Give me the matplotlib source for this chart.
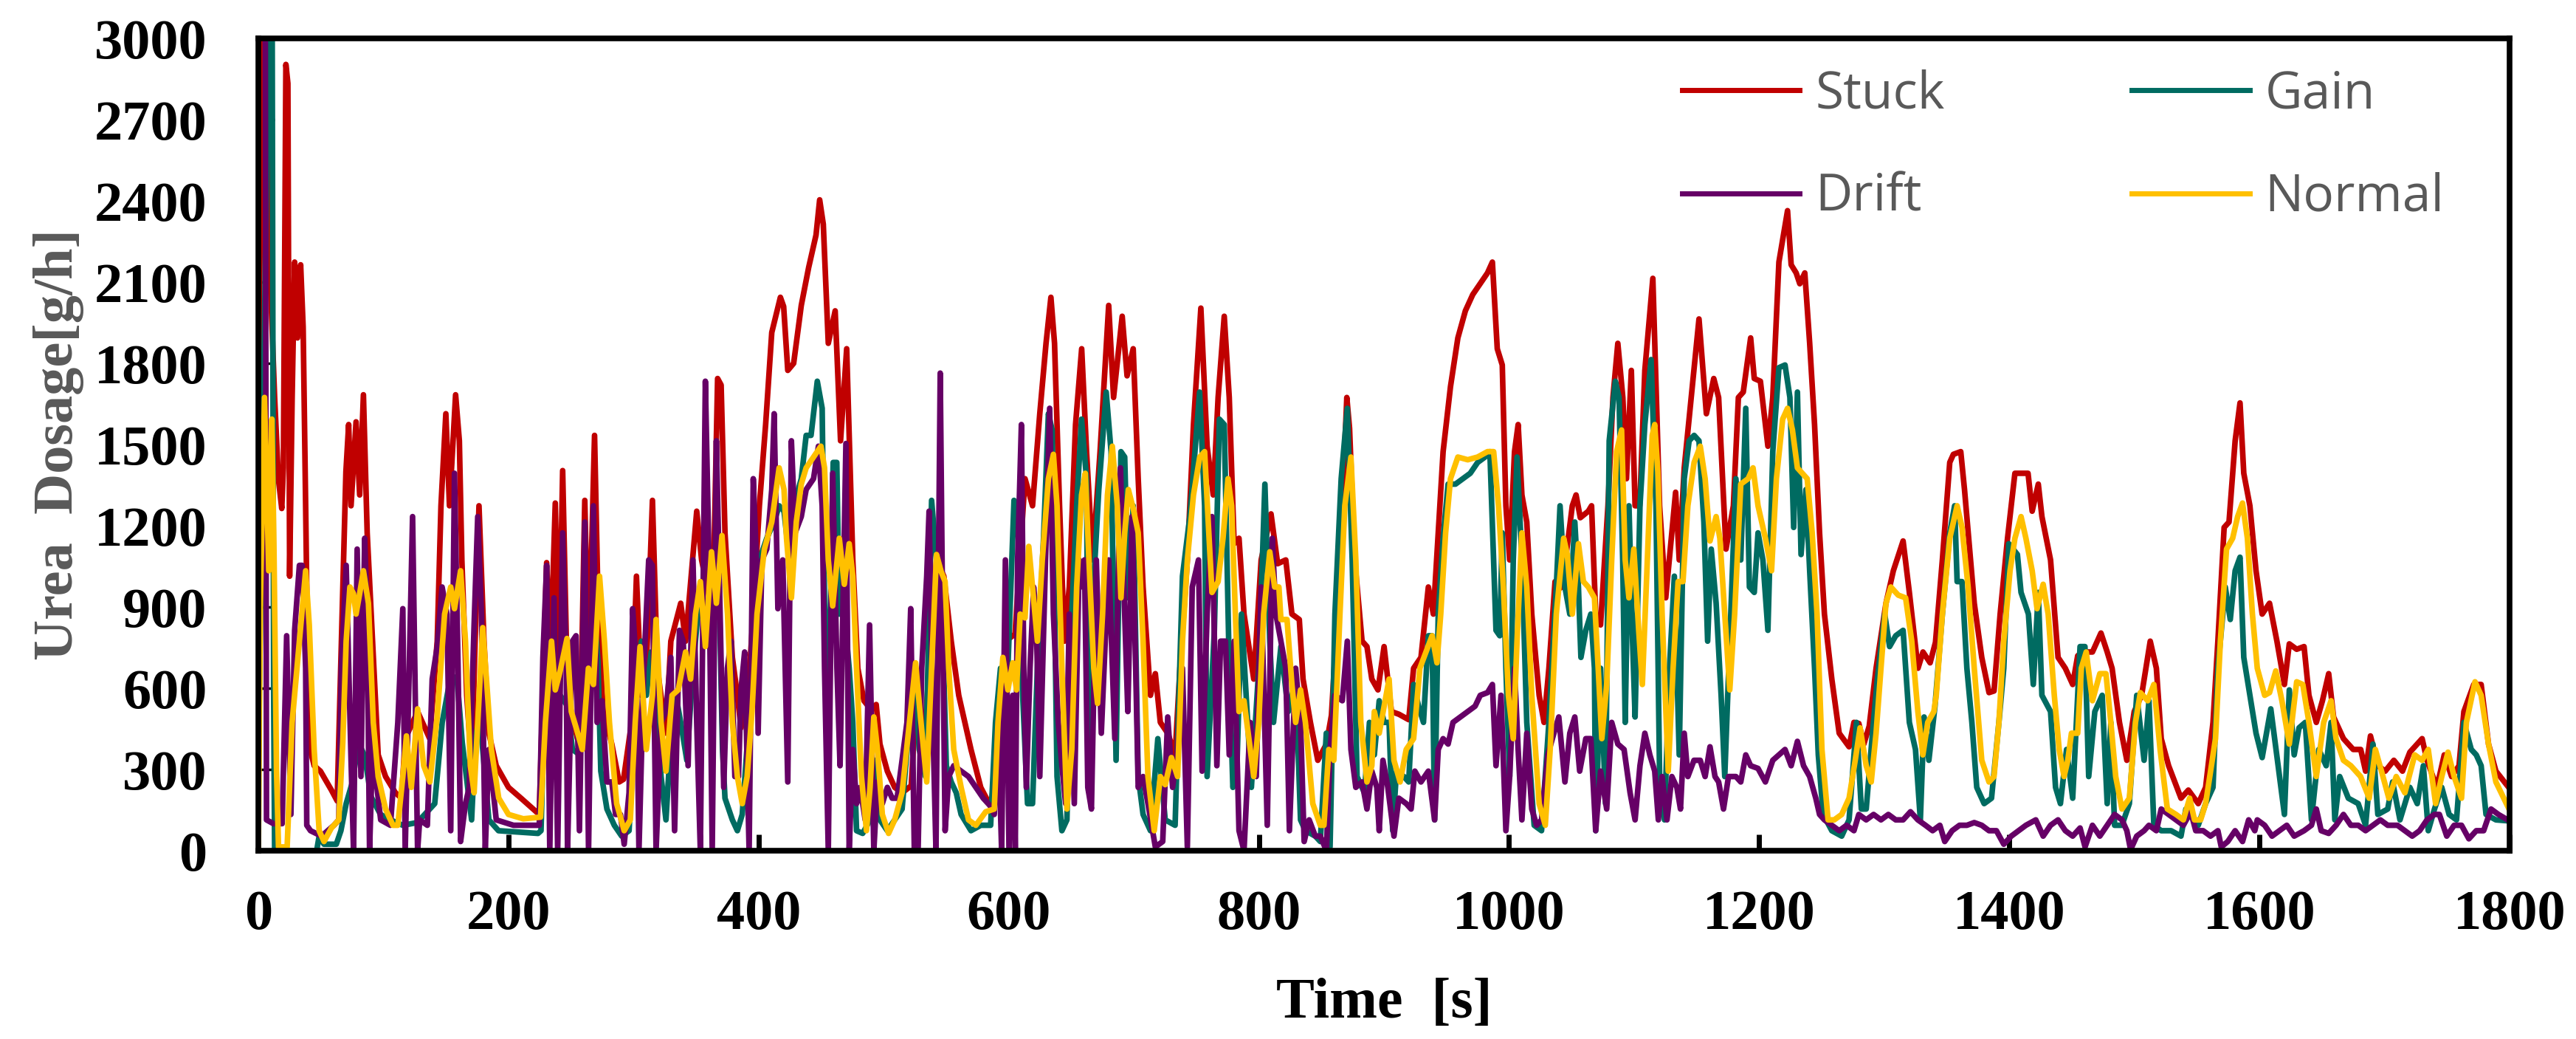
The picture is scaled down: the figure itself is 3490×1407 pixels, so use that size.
import numpy as np
import matplotlib.pyplot as plt

# values: (time [s], urea dosage [g/h])
stuck_pts = [(0,1500),(3,3150),(6,3150),(8,2300),(13,1674),(16,1374),(18.7,1264),(20,1414),(22,2904),(23.6,2834),(25,1014),(27,1674),(29,2174),(31.3,1894),(33.8,2164),(35.8,1934),(37.8,1274),(40.3,394),(44.6,314),(49.6,294),(58.4,224),(63,184),(67,874),(70,1400),(72.2,1574),(74.1,1274),(78.1,1584),(81,1314),(84,1684),(87,1174),(95.8,354),(101.7,274),(109.6,214),(114.5,194),(117.4,414),(127.3,514),(137,414),(143,774),(146,1274),(149.9,1614),(152.8,1274),(157.7,1684),(160.7,1514),(162.7,1074),(166.6,574),(170.5,314),(176.4,1274),(180.4,774),(184.3,434),(190.2,314),(200,234),(210,194),(224.6,134),(230.5,1064),(233.5,700),(237.4,1284),(240.3,674),(243.3,1404),(247.2,574),(255.1,414),(258,574),(261,1294),(264,674),(268.8,1534),(271.8,874),(275.7,514),(282.6,394),(288.5,254),(292,264),(298.4,474),(302.3,1014),(306.2,574),(310,650),(315.1,1294),(319,674),(325.9,434),(329.8,774),(337.7,914),(341.6,774),(350.5,1254),(354.4,1074),(363.3,874),(367.2,1744),(370,1720),(373.1,1174),(379,714),(383,574),(385.9,454),(391,550),(395.7,874),(400.6,1274),(405.6,1574),(410.5,1914),(417.4,2044),(420,2010),(423.3,1774),(428,1800),(434.1,2014),(440,2154),(445.9,2274),(448.8,2404),(451.7,2314),(455.7,1874),(461.2,1994),(465.5,1514),(470.4,1854),(475.3,1074),(479.3,674),(484.2,554),(490,520),(494,540),(497,394),(502.9,294),(508.8,234),(514.7,214),(522,240),(526.5,600),(532,380),(542.2,1074),(548.1,1014),(554,774),(560,574),(569.8,374),(577.6,234),(585.5,164),(590,300),(597.3,774),(605,800),(613,1374),(619,1274),(624.8,1614),(629.8,1874),(633.7,2044),(636.6,1874),(640.6,1274),(644.5,774),(648.4,974),(653.4,1574),(658.3,1854),(662.2,1474),(667.1,1074),(673,1474),(679.9,2014),(683.8,1674),(690.7,1974),(694.6,1754),(699.5,1854),(703.5,1374),(707.4,974),(713.3,574),(717.2,654),(721.2,474),(727.1,434),(733,354),(736.9,674),(742.8,1074),(747.7,1574),(753.6,2004),(758.6,1494),(763.5,1314),(767.4,1674),(772.3,1974),(776.3,1674),(780.2,1134),(784.1,1154),(788.1,874),(795.9,634),(801.8,1074),(809.7,1244),(815,1060),(821.5,1074),(826.4,874),(832.3,854),(835.3,634),(841.2,474),(847.1,334),(854,394),(858,500),(862.8,874),(866.7,1274),(870.3,1674),(872.5,1560),(876.6,1074),(882.5,774),(886.4,754),(890.3,634),(895.2,594),(900.1,754),(906,514),(912,504),(919.8,484),(923.7,674),(929.6,714),(935.5,974),(939.5,874),(943.4,1174),(947.3,1474),(953.2,1714),(959.1,1894),(965.1,1994),(971,2054),(976.9,2094),(982.8,2134),(986.7,2174),(990.6,1854),(994.6,1794),(997.5,1274),(1000.5,1074),(1004.4,1474),(1007.3,1574),(1010.3,1314),(1014.2,1214),(1018.2,874),(1024.1,574),(1028,474),(1031.9,674),(1036.8,994),(1041,970),(1045.7,1094),(1050.6,1274),(1053.6,1314),(1057,1230),(1063.4,1254),(1066,1274),(1069.3,874),(1073.2,834),(1079.1,1274),(1083.1,1674),(1087,1874),(1091,1674),(1093.9,1374),(1097.8,1774),(1100.8,1274),(1104.5,1274),(1108.6,1774),(1115,2114),(1120.4,1274),(1125.3,934),(1133.2,1324),(1136.1,1074),(1140.1,1414),(1151.9,1964),(1157.8,1614),(1163.7,1744),(1167.6,1674),(1173.5,1114),(1179.4,1274),(1183.4,1674),(1187.3,1694),(1193.2,1894),(1196.1,1744),(1201,1734),(1207,1494),(1210.9,1674),(1215.8,2174),(1222.7,2364),(1225.6,2164),(1229.6,2134),(1232.5,2094),(1236.5,2134),(1240.4,1874),(1244.3,1574),(1248.3,1174),(1252.2,874),(1258.1,634),(1264,434),(1271.9,384),(1275.8,474),(1279.7,470),(1283.7,394),(1288,460),(1293.5,674),(1301.4,914),(1307.3,1034),(1315.1,1144),(1320.1,954),(1327,674),(1331,734),(1336.7,694),(1341,770),(1346.5,1074),(1352.4,1434),(1355.3,1464),(1361.2,1474),(1364.2,1334),(1372,914),(1378,714),(1383.8,584),(1387.8,590),(1392.7,874),(1398.6,1154),(1404.5,1394),(1411.4,1394),(1415,1394),(1418.3,1254),(1423.2,1354),(1426.1,1234),(1433,1074),(1439,714),(1444.8,674),(1450.7,614),(1454.7,720),(1458.6,734),(1466.5,734),(1473.3,804),(1478.3,734),(1482.2,674),(1488.1,474),(1494,334),(1499.9,514),(1505.8,574),(1512.7,774),(1517.6,674),(1521.5,414),(1527.4,314),(1537.3,194),(1543.2,224),(1551.1,174),(1557,234),(1562.9,474),(1566.8,774),(1571.8,1194),(1575.7,1214),(1580.6,1514),(1584.5,1654),(1587.5,1394),(1592.4,1274),(1597.3,1034),(1602.2,874),(1608.1,914),(1614,774),(1620,614),(1623.9,764),(1629.8,744),(1635.7,754),(1639.6,574),(1645.5,474),(1650.4,554),(1655.4,654),(1659.3,494),(1667.2,414),(1675,374),(1681,374),(1684.9,294),(1688.8,424),(1694.7,314),(1700.6,294),(1707.5,334),(1714.4,294),(1720.3,364),(1730.1,414),(1734,334),(1741.9,234),(1747.8,354),(1753.7,274),(1759.6,314),(1763.5,514),(1771.4,614),(1777.3,614),(1783.2,394),(1789.1,294),(1800,230)]

gain_pts = [(0,300),(8.5,3150),(11,3150),(12.2,600),(13,0),(46.6,0),(48.6,54),(52.5,24),(62.3,24),(66,74),(70.2,174),(75,250),(80,400),(85,350),(90,200),(97.7,134),(105.6,114),(115.5,94),(127,104),(141,174),(147,474),(152,600),(158.7,644),(163,400),(170.5,114),(173.5,414),(177,500),(184.3,114),(192,74),(223.6,64),(226,74),(229.5,674),(235.4,574),(241.3,574),(247.2,534),(251.1,374),(257.1,354),(263,634),(268.8,874),(271.5,700),(273.8,294),(278.7,154),(284.6,94),(290.5,54),(296.4,74),(302.3,574),(306.2,774),(310.2,574),(314.1,734),(318,574),(322,274),(325.9,114),(329.8,414),(333.8,574),(337.7,474),(342.6,334),(347.5,674),(353.4,974),(357.4,774),(362.3,874),(367.2,1234),(371.1,374),(373.1,194),(379,114),(383,74),(386.9,134),(391,400),(396.7,674),(400.6,1074),(406.5,1154),(412.4,1214),(416.4,1274),(420.3,1254),(424,1100),(428.2,1274),(434.1,1374),(438,1534),(441.9,1534),(446.9,1734),(450.8,1634),(452.7,914),(455.7,474),(459.6,1434),(462.5,1434),(464.5,874),(468,900),(472.4,674),(475.3,474),(478.3,74),(483.2,64),(489.1,114),(493,334),(497,114),(502.9,74),(508.8,114),(514.7,154),(520.6,474),(525.5,614),(528.4,374),(533.4,274),(538.3,1294),(542.2,1074),(546.2,954),(550.1,314),(554,254),(558,214),(561.9,134),(569.8,74),(577.6,94),(585.5,94),(589.4,474),(593.4,674),(599.3,674),(604.2,1294),(607,1274),(611.1,574),(615,174),(619,174),(622.9,674),(627.8,1154),(631.7,1614),(634.7,1554),(638.6,274),(642.5,74),(646.5,114),(650.4,874),(654.3,1274),(658.2,1594),(662.2,1374),(663.8,220),(666.5,874),(672,1334),(677.9,1694),(681.8,1474),(685.8,334),(689.7,1474),(692.7,1454),(695.6,934),(699.5,1274),(703.5,274),(707.4,134),(713.3,74),(719.2,414),(725.1,114),(733,94),(738.9,1014),(744.8,1234),(752.6,1694),(756.6,1274),(758.6,274),(764.4,814),(768.4,1594),(772.3,1574),(776.3,674),(779.2,234),(782.2,274),(786.1,874),(794,234),(799.9,674),(804.8,1354),(808.7,774),(811.7,474),(817.6,754),(823.5,514),(829.4,634),(833.3,114),(837.2,74),(845.1,54),(849.1,34),(853.9,434),(856.9,14),(860.8,874),(865.8,1374),(870.7,1634),(874.6,1074),(878.5,274),(884.4,214),(888.4,474),(892.3,354),(896.2,554),(900.1,474),(904.1,474),(907,74),(910,294),(915.9,274),(919.8,254),(923.7,614),(927.7,534),(931.6,474),(935.5,794),(938.5,794),(940.5,114),(943.4,874),(947.3,1154),(951.3,1354),(957.2,1354),(963.1,1374),(969,1394),(974.9,1434),(980.8,1454),(984.7,1474),(987.7,1074),(989.6,814),(992.6,794),(994.6,1174),(997.5,674),(1000.5,274),(1003.4,1074),(1006.4,1454),(1010.3,1074),(1014.2,474),(1020.1,94),(1026,74),(1031.9,474),(1037.8,974),(1040.8,1274),(1044.7,974),(1048.6,874),(1052.6,1214),(1055.5,974),(1057.5,714),(1061.4,814),(1065.4,874),(1068.3,674),(1069.3,74),(1073.2,674),(1077.2,174),(1080.1,1514),(1085,1734),(1088,1674),(1090.9,1074),(1092.9,474),(1095.9,1274),(1098.8,774),(1100.8,494),(1104.7,1274),(1108.6,1574),(1113.6,1814),(1117.5,1274),(1120.4,274),(1124.3,114),(1128.3,674),(1132.2,1014),(1136.1,354),(1140.1,1374),(1144,1514),(1148,1534),(1151.9,1514),(1155.8,1214),(1158.8,774),(1161.7,1114),(1165.6,914),(1169.6,574),(1172.5,274),(1176.5,774),(1181.4,1374),(1185.3,1074),(1189.3,1634),(1192.2,974),(1196.1,954),(1199.1,1174),(1203,1074),(1207,814),(1210.9,1474),(1215.8,1784),(1220.7,1794),(1224.6,1674),(1227.6,1194),(1230.6,1694),(1233.5,1094),(1237.4,1334),(1240.4,1034),(1244.3,674),(1247.3,354),(1251.2,134),(1258.1,74),(1266,54),(1271.9,114),(1277.8,474),(1281.7,154),(1285.6,154),(1290.6,434),(1294.5,634),(1300.4,874),(1304.3,754),(1309.2,794),(1315.1,814),(1320.1,474),(1325,374),(1328.9,114),(1331.9,494),(1335.7,334),(1340.6,534),(1346.5,874),(1352.4,1174),(1356.3,1274),(1358.3,994),(1362.2,994),(1366.1,674),(1370.1,474),(1374,234),(1379.9,174),(1385.8,194),(1391.7,474),(1395.6,674),(1399.6,1134),(1406.5,1094),(1409.4,954),(1415.3,874),(1419.2,614),(1423.2,954),(1426.1,574),(1433,514),(1437,234),(1440.9,174),(1445.8,374),(1450.7,194),(1456.6,754),(1460.5,754),(1463.5,274),(1468.4,514),(1474.3,574),(1478.3,174),(1481.2,474),(1484.2,94),(1490.1,94),(1496,174),(1501.9,574),(1507.8,334),(1511.7,554),(1515.6,94),(1521.5,74),(1529.4,74),(1537.3,54),(1541.2,154),(1545.1,134),(1551.1,94),(1557,174),(1562.9,234),(1566.8,674),(1572.7,974),(1576.7,854),(1580.6,1034),(1584.5,1084),(1587.5,714),(1592.4,574),(1597.3,434),(1602.2,344),(1609.1,524),(1615,314),(1620,134),(1623.9,594),(1627.8,354),(1631.7,454),(1636.7,474),(1641.6,114),(1647.5,374),(1653.4,314),(1657.3,474),(1660.3,114),(1664.2,274),(1671.1,194),(1679,174),(1684.9,94),(1690.8,394),(1694.7,134),(1702.6,154),(1706.5,254),(1712.4,114),(1720.3,234),(1726.2,174),(1731.1,314),(1735,74),(1740,154),(1745.8,234),(1751.7,134),(1757.6,114),(1763.5,474),(1769.4,374),(1773.4,354),(1777.3,314),(1781.2,134),(1789.1,114),(1800,110)]

drift_pts = [(0,3200),(5.5,3200),(6.5,114),(12,100),(19,100),(22.6,794),(26,134),(29,814),(32.8,1054),(35,1054),(37.8,674),(38.7,94),(41.7,74),(50.5,54),(60.4,94),(64.3,114),(66.3,674),(70.2,1054),(74.1,334),(76.1,0),(79,1114),(82,274),(85,1154),(87,874),(88.9,0),(91.9,474),(94.8,234),(97.8,114),(105.6,94),(111.5,474),(115.5,894),(117.4,0),(123.3,1234),(127.3,0),(129,114),(135.1,94),(139,634),(143,754),(146.9,974),(150.8,874),(153.8,74),(156.8,1394),(159.7,674),(161.7,34),(165.6,174),(168.6,234),(172.5,834),(175.4,1234),(178.4,874),(181.4,0),(184.3,374),(190.2,114),(204,94),(224.6,94),(227.5,714),(230.5,1054),(233,0),(236.4,934),(239.3,0),(243.3,1174),(246.2,674),(247.2,0),(251.1,774),(254,794),(256.7,74),(261,1214),(264,0),(267.9,1274),(270.8,474),(274.7,554),(278.7,254),(282.6,254),(285.6,134),(289.5,134),(292.5,24),(296.4,214),(299.3,894),(302.3,674),(304.3,0),(308.2,674),(312.1,1074),(315,1054),(318,0),(322,474),(325.9,514),(329.8,714),(332.8,74),(336.7,814),(339.7,774),(343.6,314),(347.5,1074),(350.5,474),(353.4,0),(357.4,1734),(360.3,1074),(362.9,0),(366.2,1514),(369.2,874),(372.1,234),(375,674),(378,774),(381,274),(383.9,274),(385.9,594),(388.8,734),(392.4,0),(395.7,1374),(398,1100),(399.6,434),(402.6,1074),(406.5,1114),(410.5,1334),(412.4,1614),(415.4,894),(419.3,1074),(423.3,254),(426.2,1514),(429.2,1174),(434.1,1234),(438,1334),(443.9,1374),(447.8,1494),(450.8,1274),(452.7,674),(455.7,0),(459.2,1394),(462.6,674),(465.1,314),(469.8,1504),(472.4,0),(475.3,374),(478.3,174),(481.2,234),(485.2,114),(488.7,834),(492.1,0),(495,254),(498.9,174),(502.9,234),(506.8,194),(510.7,194),(514.7,334),(518.6,474),(521.6,894),(524.5,0),(527.5,0),(530.4,674),(534.4,1014),(536.3,1254),(539.3,474),(541.8,0),(545.2,1764),(547.1,874),(549.1,74),(552,274),(556,314),(561.9,294),(567.8,274),(573.7,234),(579.6,194),(585.5,164),(588.4,134),(591.4,474),(594.3,0),(597.3,1074),(600.2,0),(603.2,574),(605.2,0),(607.1,1074),(610.1,1574),(612,674),(614,234),(617,674),(619.9,974),(621.9,874),(624.8,274),(628.8,974),(632.7,1634),(635.7,874),(639.6,474),(642.5,314),(645.5,174),(648.4,874),(652.4,174),(656.3,1074),(659.2,974),(660.5,1074),(663.2,234),(666.1,154),(670,1074),(674,434),(679.9,1074),(684.8,414),(689.3,1414),(692.7,874),(695.2,514),(698.6,1234),(701.5,674),(703.5,234),(707.4,274),(711.3,174),(717.2,14),(723.1,34),(727.1,494),(731,234),(735,374),(738.9,674),(742.8,14),(746.7,974),(751.7,1074),(754.6,294),(758.6,874),(762.5,1234),(766.4,314),(769.4,774),(773.3,774),(776.3,354),(780.2,774),(784.1,74),(788.1,0),(793,474),(797.9,274),(801.8,974),(806.7,94),(810.7,1154),(813.6,874),(817.6,774),(821.5,674),(824.4,74),(829.4,674),(833.3,474),(836.2,34),(840.2,114),(845.1,54),(849.1,54),(854,0),(856.9,374),(860.8,574),(866.7,554),(870.7,774),(873.6,374),(877.5,234),(882.5,254),(886.4,154),(890.3,294),(894.3,234),(896.2,74),(899.2,334),(903.1,234),(908,54),(911.9,194),(917.8,174),(921.7,154),(924.7,294),(929.6,254),(935.5,294),(940.5,114),(943.4,374),(947.3,414),(951.3,394),(955.2,474),(961.1,494),(967,514),(972.9,534),(977,574),(982.8,584),(986.7,614),(989.6,314),(993.6,574),(997.5,74),(1000.5,274),(1004.4,674),(1007.3,374),(1010.3,114),(1014.2,434),(1018.2,154),(1022.1,94),(1026,114),(1031,354),(1035.9,434),(1039.8,494),(1044.7,254),(1048.6,434),(1052.6,494),(1056.5,294),(1061.4,414),(1065.4,414),(1069.3,74),(1073.2,294),(1078.1,154),(1082.1,474),(1087,394),(1092,374),(1096.8,214),(1100.8,114),(1104.7,314),(1108.6,434),(1112.6,354),(1116.5,294),(1119.4,114),(1122.4,274),(1126.3,114),(1130.2,274),(1134.2,234),(1137.1,154),(1140.1,434),(1143,274),(1147.9,334),(1152.9,334),(1156.8,274),(1160.7,384),(1164.7,274),(1167.6,254),(1171.5,154),(1175.5,274),(1181.4,274),(1185.3,254),(1189.3,354),(1193.2,314),(1199.1,304),(1205,254),(1210.9,334),(1215.8,354),(1220.7,374),(1225.6,314),(1230.6,404),(1235.5,314),(1240.4,274),(1245.3,194),(1248.3,134),(1252.2,114),(1258.1,94),(1264,74),(1269.9,94),(1275.8,74),(1279.7,134),(1285.6,114),(1291.5,134),(1297.4,114),(1303.3,134),(1309.2,114),(1315.1,114),(1321,144),(1326.9,114),(1333,94),(1338.7,74),(1344.5,94),(1348.4,34),(1354.3,74),(1360.2,94),(1366.1,94),(1372,104),(1378,94),(1383.8,74),(1389.7,74),(1395.6,24),(1401.6,54),(1407.5,74),(1413.3,94),(1421.2,114),(1427.1,54),(1433,94),(1439,114),(1444.8,74),(1450.7,54),(1456.6,84),(1460.6,14),(1466.5,94),(1472.4,54),(1478.3,94),(1484.2,134),(1490.1,114),(1494,74),(1497,4),(1501.9,54),(1507.8,74),(1511.7,94),(1517.6,74),(1521.5,154),(1527.4,134),(1533.3,114),(1539.2,94),(1545.1,144),(1549.1,74),(1555,74),(1560.9,54),(1566.8,74),(1569.5,14),(1574.7,34),(1580.6,74),(1586.5,34),(1591.4,114),(1596.3,74),(1598.3,114),(1604.2,94),(1610.1,54),(1616,74),(1621.9,94),(1627.8,54),(1635.7,74),(1641.6,94),(1645.5,154),(1649.4,74),(1655.4,64),(1661.3,94),(1667.2,134),(1673.1,94),(1679,94),(1684.9,74),(1690.8,94),(1696.7,114),(1702.6,94),(1710.4,94),(1716.3,74),(1722.2,54),(1728.1,74),(1734,114),(1739.9,134),(1743.9,134),(1749.8,54),(1755.7,94),(1761.6,94),(1767.5,44),(1773.4,74),(1779.3,74),(1785.2,154),(1791.1,134),(1800,110)]

normal_pts = [(0,0),(1.5,900),(4.9,1674),(8.3,1034),(10.8,1594),(12.5,1100),(14.5,300),(16.1,14),(23,14),(27,474),(32.8,774),(37.8,1034),(40.7,834),(44.6,374),(48.6,74),(52.5,34),(58.4,84),(64.3,114),(67.5,400),(70.2,774),(73.2,974),(76,950),(78.1,874),(81,950),(84,1034),(88,914),(91.9,474),(95.8,274),(101.7,154),(107.6,94),(111.5,94),(115.5,274),(118.4,424),(122.3,234),(127.3,524),(132.2,314),(137.1,254),(143,494),(148.9,874),(153.8,974),(156.8,894),(161.7,1034),(165.6,774),(169.5,314),(172.5,214),(175.4,474),(179.4,824),(183.3,574),(186.3,374),(192.2,194),(200,134),(211.8,118),(225.6,124),(229.5,474),(234.4,774),(237.4,594),(241.3,664),(246.8,784),(250.2,514),(254.1,454),(259,374),(263.9,674),(267.9,614),(272.8,1014),(276.7,774),(280.7,474),(286.5,174),(292.5,74),(297.4,114),(301.3,474),(305.2,754),(310.2,374),(315.1,574),(318,854),(322,474),(325.9,294),(330.8,574),(335.7,594),(341.6,734),(345.6,634),(349.5,874),(353.4,994),(357.4,754),(362.3,1104),(366.2,914),(370.7,1164),(375.1,874),(379,474),(383,274),(386.9,174),(390.8,274),(394.7,514),(398.7,874),(404.6,1114),(410.5,1214),(416.4,1414),(420.3,1334),(422.3,1154),(426.2,934),(430.1,1214),(434.1,1354),(438,1414),(443.9,1454),(449.8,1494),(452.7,1414),(455.7,1074),(459.2,904),(464.5,1154),(468.5,984),(472.4,1134),(475.3,1014),(478.3,674),(482.2,274),(486.2,74),(489.1,234),(492.1,494),(495,374),(498.9,134),(503.9,64),(508.8,114),(514.7,214),(520.6,474),(525.5,694),(529.4,494),(534.4,254),(538.3,674),(542.2,1094),(546,1030),(549.1,994),(552,674),(556,374),(561.9,234),(567.8,114),(573.7,94),(581.6,144),(588.4,154),(591.4,474),(595.3,714),(599.3,594),(603.2,694),(606.2,594),(609.1,874),(613,860),(616,1124),(619,974),(622.9,774),(626.8,1074),(631.7,1374),(635.7,1464),(638.6,1274),(642.5,674),(646.5,154),(650.4,374),(654.3,974),(658.2,1314),(661.2,1394),(664.1,1074),(668,674),(671,544),(675,874),(678.9,1314),(682.8,1494),(686.8,1274),(689.7,934),(692.7,1174),(695.6,1334),(699.5,1264),(703.5,1174),(707.4,774),(711.3,274),(716.3,74),(721.2,274),(725.1,244),(730,344),(735,274),(738.9,774),(742.8,1074),(747.7,1314),(752.7,1454),(756.6,1474),(759.5,1214),(762.5,954),(767.4,994),(771.3,1154),(775.3,1374),(778.2,1274),(781.2,874),(784.1,514),(788.1,554),(792,414),(795.9,274),(799.9,474),(803.8,874),(808.7,1104),(812.6,974),(816,974),(817.6,854),(822.5,854),(826.4,614),(829.4,474),(833.3,594),(837.2,474),(843.1,174),(849.1,94),(852,94),(855.9,374),(859.9,334),(864.8,874),(868.7,1274),(873.6,1454),(877.5,1074),(881.5,474),(886.4,254),(890.3,314),(892.3,514),(896.2,434),(904.1,634),(908,334),(912.9,254),(917.8,374),(923.7,414),(928.7,674),(933.6,734),(938.5,794),(942.4,694),(945.4,874),(949.3,1174),(953.2,1374),(959.1,1454),(967,1444),(974.9,1454),(982.8,1474),(987.7,1474),(991.6,1274),(995.5,974),(999.5,574),(1003.4,414),(1006.4,774),(1010.3,1174),(1014.2,974),(1018.2,574),(1024.1,174),(1029,94),(1032.9,374),(1037.8,874),(1043.7,1154),(1046.6,1094),(1050.6,874),(1055.5,1134),(1059.5,994),(1063.4,974),(1068.3,934),(1071.3,674),(1074.2,414),(1078.1,614),(1082.1,1074),(1086,1474),(1090,1554),(1092.9,1074),(1095.9,934),(1099.8,1114),(1103.7,814),(1106.6,614),(1110.6,1074),(1114.5,1534),(1116.5,1574),(1119,1400),(1122.4,874),(1127.3,294),(1131.2,674),(1135.2,994),(1139.1,994),(1143,1274),(1148,1434),(1152.9,1494),(1156.8,1374),(1160.7,1144),(1165.6,1234),(1168.6,1154),(1172.5,874),(1176.5,594),(1180.4,874),(1185.3,1354),(1191.2,1374),(1195.1,1414),(1199.1,1274),(1205,1154),(1209.9,1034),(1213.8,1374),(1218.8,1594),(1222.7,1634),(1226.6,1554),(1230.6,1414),(1238.4,1374),(1242.4,1174),(1246.3,874),(1250.2,374),(1255.1,114),(1260,114),(1266,134),(1271.9,194),(1276.8,334),(1280.7,454),(1285.6,314),(1289.6,254),(1293.5,434),(1297.4,674),(1301.4,914),(1305.3,974),(1311.2,944),(1317.1,934),(1322,774),(1326.9,514),(1330.9,354),(1334.8,474),(1339.7,514),(1341.6,574),(1346.5,874),(1352.4,1154),(1358.3,1274),(1362.2,1194),(1367.1,974),(1372,674),(1378,334),(1383.8,254),(1387.8,274),(1391.7,474),(1395.6,774),(1400.6,1034),(1404.5,1154),(1409.4,1234),(1413.3,1154),(1418.3,1034),(1422.2,894),(1427.1,984),(1431.1,874),(1436,574),(1439.9,374),(1443.8,274),(1446.8,334),(1449.7,434),(1454.7,434),(1457.6,674),(1461.5,734),(1466.5,554),(1472.4,654),(1477.3,654),(1481.2,474),(1485.1,274),(1490.1,154),(1496,194),(1500.9,474),(1504.8,584),(1510.7,554),(1515.6,614),(1520.6,374),(1526.4,154),(1533.3,134),(1539.2,114),(1544.2,194),(1548.1,114),(1553,114),(1557,174),(1564.9,414),(1568.8,774),(1573.7,1114),(1578.6,1154),(1582.6,1234),(1586.5,1284),(1590.4,1154),(1594.4,874),(1598.3,674),(1604.2,574),(1608.1,584),(1613.1,664),(1618,554),(1623.9,394),(1629.8,624),(1634.7,614),(1639.6,474),(1645.5,274),(1651.4,474),(1657.3,554),(1661.3,414),(1667.2,334),(1673.1,314),(1680.9,274),(1687.8,194),(1692.7,374),(1697.6,294),(1703.5,194),(1709.4,274),(1716.3,214),(1724.2,354),(1730.1,334),(1735,374),(1740.9,174),(1745.8,274),(1750.8,364),(1755.7,274),(1761.6,194),(1765.5,474),(1772.4,624),(1777.3,574),(1783.2,394),(1789.1,254),(1800,150)]

series_names = ['Stuck', 'Gain', 'Drift', 'Normal']
series_colors = ['#C00000', '#006B61', '#660066', '#FFC000']
x_ticks = [0, 200, 400, 600, 800, 1000, 1200, 1400, 1600, 1800]
y_ticks = [0, 300, 600, 900, 1200, 1500, 1800, 2100, 2400, 2700, 3000]

fig = plt.figure(figsize=(34.9, 14.07), dpi=100)
ax = fig.add_axes([0.1003, 0.1812, 0.8739, 0.7818])

handles = {}
for name, pts, col in zip(series_names, [stuck_pts, gain_pts, drift_pts, normal_pts], series_colors):
    arr = np.array(sorted(pts))
    ln, = ax.plot(arr[:, 0], arr[:, 1], color=col, lw=5.5, label=name)
    handles[name] = ln

ax.set_xlim(0, 1800)
ax.set_ylim(0, 3000)
ax.set_xticks(x_ticks)
ax.set_yticks(y_ticks)

tick_font = dict(family='Liberation Serif', weight='bold', size=55)
ax.set_xticklabels([str(v) for v in x_ticks], fontdict=tick_font)
ax.set_yticklabels([str(v) for v in y_ticks], fontdict=tick_font)
ax.tick_params(axis='x', direction='in', length=16, width=5, pad=38)
ax.tick_params(axis='y', direction='in', length=16, width=2.5, pad=50)

for sp in ax.spines.values():
    sp.set_linewidth(5.5)

ax.set_xlabel('Time  [s]', family='Liberation Serif', weight='bold', size=56, labelpad=36)
ax.set_ylabel('Urea  Dosage[g/h]', family='Liberation Serif', weight='bold', size=55,
              color='#595959', labelpad=10)

# legend laid out row-wise: Stuck, Gain / Drift, Normal
order = ['Stuck', 'Drift', 'Gain', 'Normal']
leg = ax.legend([handles[n] for n in order], order, ncol=2, loc='upper left',
                bbox_to_anchor=(0.621, 0.994), frameon=False, borderpad=0,
                handlelength=2.3, handletextpad=0.3, columnspacing=3.65, labelspacing=1.0,
                prop=dict(family='Open Sans', size=50))
for txt in leg.get_texts():
    txt.set_color('#595959')
for ln in leg.get_lines():
    ln.set_linewidth(5)

fig.savefig('out.png', dpi=100)
